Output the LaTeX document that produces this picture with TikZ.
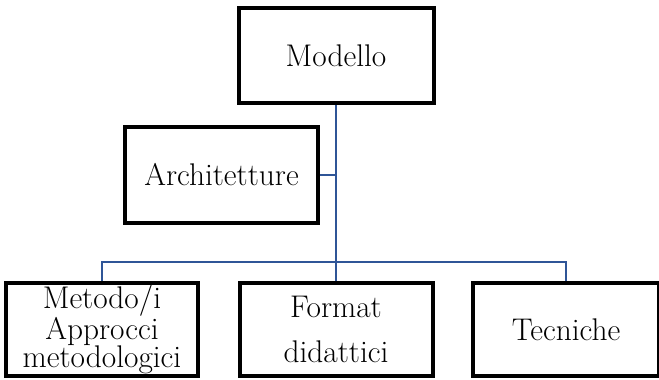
\documentclass[tikz,border=0pt]{standalone}
\usepackage{fontspec}
\definecolor{linkblue}{RGB}{47,85,151}
\begin{document}
\begin{tikzpicture}[x=0.75pt,y=-0.75pt,
  box/.style={draw,line width=3pt,align=center,inner sep=0pt,
    font=\fontsize{23.5}{21.4}\selectfont},
  link/.style={draw=linkblue,line width=1.6pt}]
\useasboundingbox (0,0) rectangle (659,379);
\node[box,minimum width=146.25pt,minimum height=71.25pt](mod) at (336,55.5){Modello};
\node[box,minimum width=144.75pt,minimum height=72pt](arch) at (221.5,175){Architetture};
\node[box,minimum width=144pt,minimum height=69.75pt](met) at (102,329.5){Metodo/i\\Approcci\\metodologici};
\node[box,minimum width=144.75pt,minimum height=69.75pt](form) at (336,329.5){Format\\[12.5pt]didattici};
\node[box,minimum width=139.5pt,minimum height=69.75pt](tec) at (566,329.5){Tecniche};
\coordinate (bar) at (336,262);
\draw[link](mod.south)--(bar);
\draw[link](arch.east)--(arch.east-|bar);
\draw[link](met.north)|-(bar)-|(tec.north);
\draw[link](bar)--(form.north);
\end{tikzpicture}
\end{document}
